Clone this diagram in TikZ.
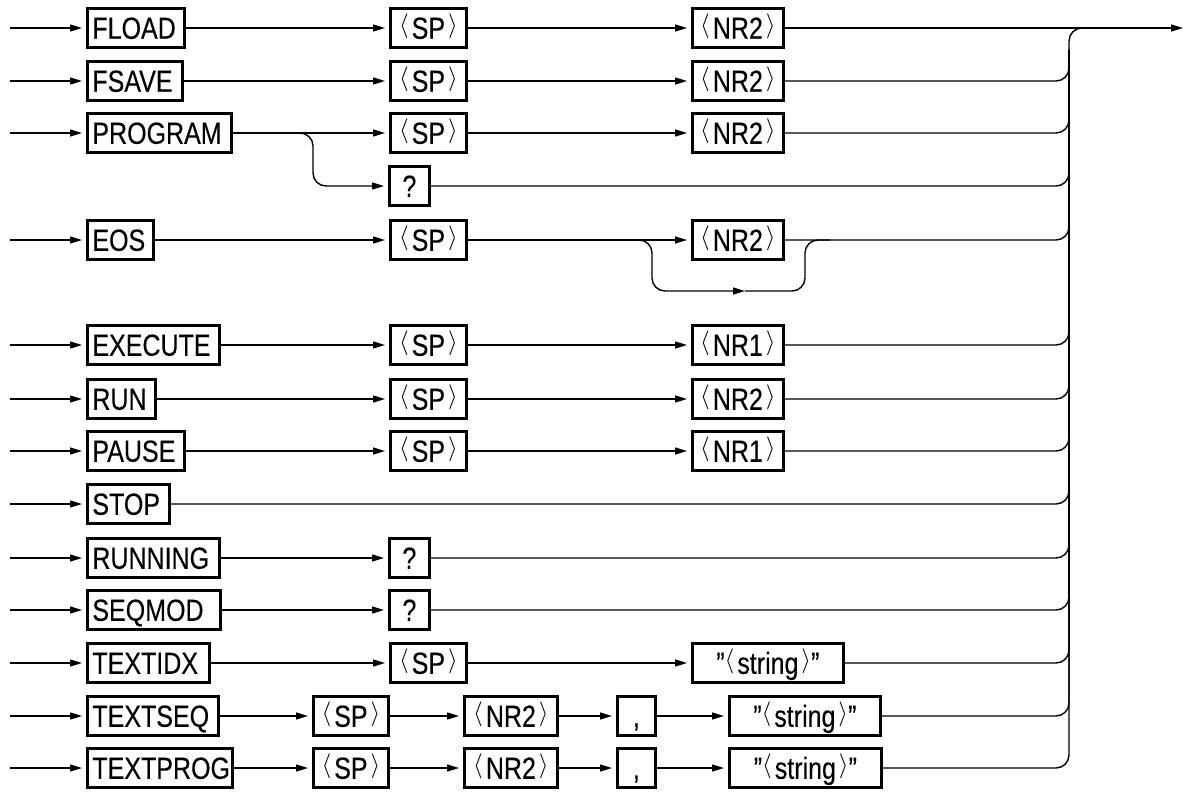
\documentclass[tikz,border=0pt]{standalone}
\usepackage{fontspec}
\setmainfont{Liberation Sans}[FakeStretch=0.82,FakeBold=0.2]
\usetikzlibrary{arrows.meta}
\newcommand\LA{\raisebox{6pt}{\fontsize{24.88}{25}\selectfont$\langle$}\kern3pt}
\newcommand\RA{\kern3pt\raisebox{6pt}{\fontsize{24.88}{25}\selectfont$\rangle$}}
\begin{document}
\begin{tikzpicture}[x=1pt,y=-1pt,line width=1.4pt,
  kw/.style={draw,line width=2.8pt,anchor=west,minimum height=39pt,inner xsep=5pt,inner ysep=0pt,
    text height=21.5pt,text depth=0pt,align=left,font=\fontsize{30.5}{31}\selectfont},
  bx/.style={draw,line width=2.8pt,anchor=west,minimum height=39pt,inner sep=0pt,
    text height=21.5pt,text depth=0pt,font=\fontsize{30.5}{31}\selectfont},
  tip/.style={-{Triangle[length=12pt,width=7pt]}},
  arr/.style={tip,shorten >=4pt},
  rc/.style={rounded corners=13pt}]
\useasboundingbox (0,0) rectangle (1184,792);
% row 1
\node[kw,text width=87pt] (fload) at (86,28) {FLOAD};
\node[bx,minimum width=76pt] (sp1) at (389,28) {\LA SP\RA};
\node[bx,minimum width=91pt] (nr1) at (691,28) {\LA NR2\RA};
% row 2
\node[kw,text width=85pt] (fsave) at (86,81) {FSAVE};
\node[bx,minimum width=76pt] (sp2) at (389,81) {\LA SP\RA};
\node[bx,minimum width=91pt] (nr2) at (691,81) {\LA NR2\RA};
% row 3
\node[kw,text width=134pt] (prog) at (86,133) {PROGRAM};
\node[bx,minimum width=76pt] (sp3) at (389,133) {\LA SP\RA};
\node[bx,minimum width=91pt] (nr3) at (691,133) {\LA NR2\RA};
% row 4
\node[bx,minimum width=40pt] (q4) at (388,186) {?};
% row 5
\node[kw,text width=56pt] (eos) at (86,240) {EOS};
\node[bx,minimum width=76pt] (sp5) at (389,240) {\LA SP\RA};
\node[bx,minimum width=91pt] (nr5) at (691,240) {\LA NR2\RA};
% row 6
\node[kw,text width=122pt] (exec) at (86,345) {EXECUTE};
\node[bx,minimum width=76pt] (sp6) at (389,345) {\LA SP\RA};
\node[bx,minimum width=91pt] (nr6) at (691,345) {\LA NR1\RA};
% row 7
\node[kw,text width=58pt] (run) at (86,399) {RUN};
\node[bx,minimum width=76pt] (sp7) at (389,399) {\LA SP\RA};
\node[bx,minimum width=91pt] (nr7) at (691,399) {\LA NR2\RA};
% row 8
\node[kw,text width=87pt] (pause) at (86,451) {PAUSE};
\node[bx,minimum width=76pt] (sp8) at (389,451) {\LA SP\RA};
\node[bx,minimum width=91pt] (nr8) at (691,451) {\LA NR1\RA};
% row 9
\node[kw,text width=72pt] (stop) at (86,504) {STOP};
% row 10
\node[kw,text width=122pt] (running) at (86,558) {RUNNING};
\node[bx,minimum width=40pt] (q10) at (388,558) {?};
% row 11
\node[kw,text width=123pt] (seqmod) at (86,610) {SEQMOD};
\node[bx,minimum width=40pt] (q11) at (388,610) {?};
% row 12
\node[kw,text width=112pt] (textidx) at (86,663) {TEXTIDX};
\node[bx,minimum width=76pt] (sp12) at (389,663) {\LA SP\RA};
\node[bx,minimum width=151pt] (str12) at (691,663) {”\LA string\RA”};
% row 13
\node[kw,text width=121pt] (textseq) at (86,716) {TEXTSEQ};
\node[bx,minimum width=75pt] (sp13) at (312,716) {\LA SP\RA};
\node[bx,minimum width=93pt] (nr13) at (463,716) {\LA NR2\RA};
\node[bx,minimum width=38pt] (c13) at (616,716) {,};
\node[bx,minimum width=151pt] (str13) at (728,716) {”\LA string\RA”};
% row 14
\node[kw,text width=135pt] (textprog) at (86,768) {TEXTPROG};
\node[bx,minimum width=75pt] (sp14) at (312,768) {\LA SP\RA};
\node[bx,minimum width=93pt] (nr14) at (463,768) {\LA NR2\RA};
\node[bx,minimum width=38pt] (c14) at (616,768) {,};
\node[bx,minimum width=152pt] (str14) at (728,768) {”\LA string\RA”};
% coordinates
\coordinate (out) at (1183,28);
\coordinate (m) at (1069,28);
\coordinate (mv) at (1069,50);
\coordinate (mr) at (1100,28);
\coordinate (pb) at (313,160);
\coordinate (eb) at (652,265);
\coordinate (ea) at (745,291);
\coordinate (ec) at (805,265);
\coordinate (ed) at (830,240);
% entry arrows
\foreach \n in {fload,fsave,prog,eos,exec,run,pause,stop,running,seqmod,textidx,textseq,textprog}{
  \path (\n.west) ++(-76,0) coordinate (e-\n);
  \draw[arr] (e-\n) -- (\n.west);
}
% rows with SP and NR
\foreach \a/\b/\c in {fload/sp1/nr1,fsave/sp2/nr2,prog/sp3/nr3,eos/sp5/nr5,exec/sp6/nr6,run/sp7/nr7,pause/sp8/nr8,textidx/sp12/str12}{
  \draw[arr] (\a.east) -- (\b.west);
  \draw[arr] (\b.east) -- (\c.west);
}
\draw[arr] (running.east) -- (q10.west);
\draw[arr] (seqmod.east) -- (q11.west);
\foreach \a/\b/\c/\d/\e in {textseq/sp13/nr13/c13/str13,textprog/sp14/nr14/c14/str14}{
  \draw[arr] (\a.east) -- (\b.west);
  \draw[arr] (\b.east) -- (\c.west);
  \draw[arr] (\c.east) -- (\d.west);
  \draw[arr] (\d.east) -- (\e.west);
}
% PROGRAM branch
\draw[rc,arr] (prog.east) -| (pb) |- (q4.west);
% EOS bypass
\draw[rc,tip] (sp5.east) -| (eb) |- (ea);
\draw[rc] (ea) -| (ec) |- (ed);
% output
\draw[tip] (nr1.east) -- (out);
\draw[rc] (str14.east) -| (m) -- (mr);
\foreach \n in {nr2,nr3,q4,nr5,nr6,nr7,nr8,stop,q10,q11,str12,str13}{
  \draw[rc] (\n.east) -| (mv);
}
\end{tikzpicture}
\end{document}
